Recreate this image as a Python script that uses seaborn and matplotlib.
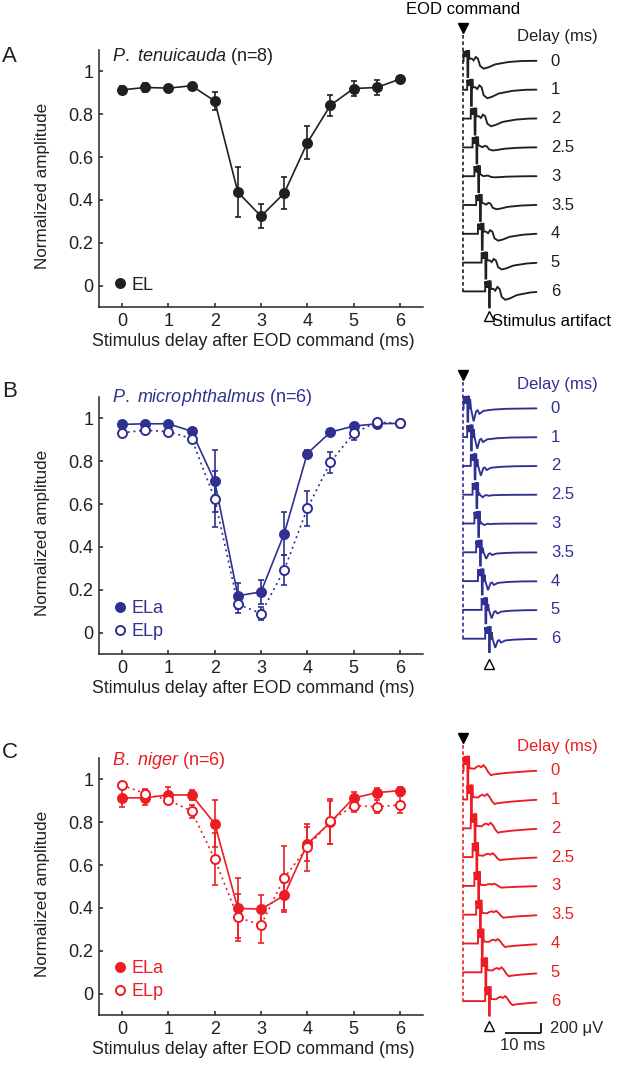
import numpy as np
import pandas as pd
import matplotlib
matplotlib.use("Agg")
import matplotlib.pyplot as plt
import seaborn as sns
from matplotlib.lines import Line2D

# ---------------- data ----------------
DELAYS = [0, 0.5, 1, 1.5, 2, 2.5, 3, 3.5, 4, 4.5, 5, 5.5, 6]

A_EL = [0.914, 0.925, 0.922, 0.933, 0.862, 0.436, 0.324, 0.431, 0.666, 0.842, 0.920, 0.925, 0.964]
A_EL_ERR = [0.020, 0.020, 0.010, 0.010, 0.040, 0.118, 0.057, 0.075, 0.077, 0.050, 0.033, 0.037, 0.015]

B_ELA = [0.972, 0.975, 0.975, 0.940, 0.706, 0.172, 0.190, 0.461, 0.836, 0.936, 0.964, 0.975, 0.977]
B_ELA_ERR = [0.010, 0.010, 0.010, 0.015, 0.145, 0.060, 0.055, 0.100, 0.015, 0.010, 0.010, 0.010, 0.008]
B_ELP = [0.933, 0.945, 0.938, 0.906, 0.625, 0.133, 0.089, 0.292, 0.580, 0.795, 0.930, 0.983, 0.977]
B_ELP_ERR = [0.010, 0.020, 0.010, 0.015, 0.130, 0.040, 0.030, 0.070, 0.080, 0.050, 0.030, 0.008, 0.008]

C_ELA = [0.914, 0.914, 0.928, 0.927, 0.794, 0.398, 0.394, 0.458, 0.698, 0.800, 0.913, 0.938, 0.948]
C_ELA_ERR = [0.045, 0.035, 0.035, 0.025, 0.110, 0.140, 0.065, 0.075, 0.080, 0.100, 0.030, 0.020, 0.015]
C_ELP = [0.973, 0.934, 0.903, 0.852, 0.628, 0.356, 0.320, 0.539, 0.683, 0.805, 0.878, 0.872, 0.881]
C_ELP_ERR = [0.010, 0.020, 0.020, 0.030, 0.120, 0.110, 0.085, 0.150, 0.110, 0.105, 0.030, 0.030, 0.040]

Y_TICKS = [0, 0.2, 0.4, 0.6, 0.8, 1]
Y_TICK_LABELS = ["0", "0.2", "0.4", "0.6", "0.8", "1"]
X_TICKS = [0, 1, 2, 3, 4, 5, 6]

# example traces (time in ms relative to stimulus onset, voltage in µV)
TRACE_DELAYS = [0, 1, 2, 2.5, 3, 3.5, 4, 5, 6]
TRACE_LABELS = ["0", "1", "2", "2.5", "3", "3.5", "4", "5", "6"]
ART_T = [0.0, 0.03, 0.35, 0.4, 0.75, 0.8, 1.05, 1.1, 1.3, 1.35, 1.55, 1.6]
A_ART_V = [0, 200, 80, 200, 80, 200, 200, -320, -320, 200, 200, 47]
B_ART_V = [0, 233, 100, 233, 100, 233, 233, -267, -267, 233, 233, 0]
C_ART_V = [0, 280, 120, 280, 120, 280, 280, -290, -290, 280, 280, 47]

A_RESP_T = [2.3, 2.8, 3.4, 4.0, 4.6, 5.6, 6.9, 8.8, 12.5, 16.2, 22.0]
A_RESP_V = [47, 13, 80, 47, -100, -153, -127, -67, -20, 0, 5]
A_GAIN = [1.0, 1.1, 1.0, 0.4, 0.15, 0.55, 0.9, 0.9, 1.1]

B_RESP_T = [1.65, 1.85, 2.05, 2.8, 3.5, 3.9, 4.4, 5.6, 8.3, 12.0, 22.0]
B_RESP_V = [0, 180, 0, -260, -60, -40, -110, -50, -25, -10, 0]
B_GAIN = [1.0, 0.9, 0.75, 0.2, 0.12, 0.5, 0.7, 0.65, 0.7]

C_RESP_T = [1.85, 3.05, 3.7, 4.35, 4.9, 5.55, 6.2, 6.9, 7.6, 8.3, 11.6, 16.2, 22.0]
C_RESP_V = [47, 40, 80, 95, 70, 110, 55, -33, -90, -75, -47, -20, 5]
C_GAIN = [1.0, 1.0, 1.0, 0.7, 0.4, 0.7, 0.8, 0.9, 0.9]

# ---------------- style ----------------
BLACK = "#231F20"
BLUE = "#2E3192"
RED = "#ED1C24"

sns.set_style("ticks")
plt.rcParams["font.family"] = ["Liberation Sans", "DejaVu Sans"]
plt.rcParams["mathtext.fontset"] = "custom"
plt.rcParams["mathtext.rm"] = "Liberation Sans"
plt.rcParams["mathtext.it"] = "Liberation Sans:italic"
plt.rcParams["axes.linewidth"] = 1.1

W, H = 617, 1066
fig = plt.figure(figsize=(W / 100, H / 100), dpi=100)

# trace geometry
CMD_PX = 463.0
PX_PER_MS = 3.6
UV_PER_PX = 20.0
ROW_UV = 576.0
ART_OFFSET = 0.15
T_END = 20.4


def main_axes(top_px, bottom_px):
    ax = fig.add_axes([99 / W, 1 - bottom_px / H, 324 / W, (bottom_px - top_px) / H])
    ax.set_xlim(-0.5, 6.5)
    ax.set_ylim(-0.1, 1.1)
    sns.despine(ax=ax)
    ax.set_xticks(X_TICKS)
    ax.set_yticks(Y_TICKS)
    ax.set_yticklabels(Y_TICK_LABELS)
    ax.tick_params(direction="in", length=3, width=1.1, labelsize=13, pad=4, colors=BLACK)
    ax.set_xlabel("Stimulus delay after EOD command (ms)", fontsize=12.8, color=BLACK)
    ax.set_ylabel("Normalized amplitude", fontsize=12.3, color=BLACK)
    ax.xaxis.label.set_verticalalignment("center")
    ax.yaxis.label.set_verticalalignment("center")
    ax.xaxis.set_label_coords(0.475, -0.136)
    ax.yaxis.set_label_coords(-0.174, 0.47)
    return ax


def draw_series(ax, y, err, color, filled, label, z):
    df = pd.DataFrame({"delay": DELAYS, "amp": y})
    ax.errorbar(DELAYS, y, yerr=err, fmt="none", ecolor=color, elinewidth=1.2,
                capsize=2.4, capthick=1.2, zorder=z - 0.5)
    sns.lineplot(data=df, x="delay", y="amp", ax=ax, color=color, linewidth=1.2,
                 marker="o", markersize=6.5,
                 markerfacecolor=color if filled else "white",
                 markeredgecolor=color, markeredgewidth=1.4, zorder=z, label=label,
                 legend=False)
    line = ax.lines[-1]
    if not filled:
        line.set_linestyle((0, (1.2, 2.2)))
    return Line2D([], [], color=color, marker="o", linestyle="none", markersize=6.5,
                  markerfacecolor=color if filled else "white", markeredgecolor=color,
                  markeredgewidth=1.4)


def add_legend(ax, handles, labels, color, y_center):
    leg = ax.legend(handles, labels, loc="center left", bbox_to_anchor=(0.037, y_center),
                    frameon=False, fontsize=13, handlelength=0.95, handletextpad=0.2,
                    borderpad=0, borderaxespad=0, labelspacing=0.35)
    for t in leg.get_texts():
        t.set_color(color)


def trace_axes(top_px, bottom_px, row0_px):
    left_px, right_px = 440.0, 617.0
    ax = fig.add_axes([left_px / W, 1 - bottom_px / H, (right_px - left_px) / W,
                       (bottom_px - top_px) / H])
    ax.set_xlim(-(CMD_PX - left_px) / PX_PER_MS, (right_px - CMD_PX) / PX_PER_MS)
    ax.set_ylim(-(bottom_px - row0_px) * UV_PER_PX, (row0_px - top_px) * UV_PER_PX)
    ax.axis("off")
    return ax


def trace(delay, art_v, resp_t, resp_v, gain):
    t0 = ART_OFFSET + delay
    t = np.array([0.0] + [t0 + x for x in ART_T] + [t0 + x for x in resp_t])
    v = np.array([0.0] + list(art_v) + [gain * x for x in resp_v])
    keep = t <= T_END
    end_v = np.interp(T_END, t, v)
    return np.append(t[keep], T_END), np.append(v[keep], end_v)


def draw_traces(ax, color, art_v, resp_t, resp_v, gains):
    n = len(TRACE_DELAYS)
    for i, (d, lab, g) in enumerate(zip(TRACE_DELAYS, TRACE_LABELS, gains)):
        t, v = trace(d, art_v, resp_t, resp_v, g)
        ax.plot(t, v - i * ROW_UV, color=color, lw=1.35, solid_joinstyle="miter")
        ax.text(24.4, -i * ROW_UV, lab, color=color, fontsize=12, ha="left", va="center")
    ax.plot([0, 0], [520, -(n - 1) * ROW_UV], color=color, lw=1.2, ls=(0, (2.2, 1.6)))
    ax.plot([0], [660], marker="v", color="black", markersize=7.5, clip_on=False)
    ax.text(15.0, 480, "Delay (ms)", color=color, fontsize=12, ha="left", va="center")
    art_x = ART_OFFSET + TRACE_DELAYS[-1] + 1.2
    ax.plot([art_x], [-(n - 1) * ROW_UV - 500], marker="^", markerfacecolor="white",
            markeredgecolor="black", markeredgewidth=1.0, markersize=7, linestyle="none")
    return art_x


# ---------------- panel A ----------------
axA = main_axes(50, 307)
hA = draw_series(axA, A_EL, A_EL_ERR, BLACK, True, "EL", 3)
add_legend(axA, [hA], ["EL"], BLACK, (307 - 285) / 257)
axA.text(0.04, 0.974, r"$\it{P.\ tenuicauda}$ (n=8)", transform=axA.transAxes,
         fontsize=13, color=BLACK, ha="left", va="center")

# ---------------- panel B ----------------
axB = main_axes(397, 654)
hB1 = draw_series(axB, B_ELA, B_ELA_ERR, BLUE, True, "ELa", 3)
hB2 = draw_series(axB, B_ELP, B_ELP_ERR, BLUE, False, "ELp", 4)
add_legend(axB, [hB1, hB2], ["ELa", "ELp"], BLUE, (654 - 620) / 257)
axB.text(0.04, 1.0, r"$\it{P.\ microphthalmus}$ (n=6)", transform=axB.transAxes,
         fontsize=13, color=BLUE, ha="left", va="center")

# ---------------- panel C ----------------
axC = main_axes(758, 1015)
hC1 = draw_series(axC, C_ELA, C_ELA_ERR, RED, True, "ELa", 3)
hC2 = draw_series(axC, C_ELP, C_ELP_ERR, RED, False, "ELp", 4)
add_legend(axC, [hC1, hC2], ["ELa", "ELp"], RED, (1015 - 980) / 257)
axC.text(0.04, 0.992, r"$\it{B.\ niger}$ (n=6)", transform=axC.transAxes,
         fontsize=13, color=RED, ha="left", va="center")

# ---------------- traces ----------------
tA = trace_axes(0, 340, 61)
xa = draw_traces(tA, BLACK, A_ART_V, A_RESP_T, A_RESP_V, A_GAIN)
tA.text(0, (61 - 9) * UV_PER_PX, "EOD command", fontsize=12, color="black",
        ha="center", va="center")
tA.text(xa + 0.8, -(len(TRACE_DELAYS) - 1) * ROW_UV - 600, "Stimulus artifact",
        fontsize=12, color="black", ha="left", va="center")

tB = trace_axes(360, 700, 408.3)
draw_traces(tB, BLUE, B_ART_V, B_RESP_T, B_RESP_V, B_GAIN)

tC = trace_axes(720, 1066, 770.7)
draw_traces(tC, RED, C_ART_V, C_RESP_T, C_RESP_V, C_GAIN)
# scale bars: 10 ms, 200 µV
sb_y = -(1033 - 770.7) * UV_PER_PX
sb_x1 = 21.7
tC.plot([sb_x1 - 10, sb_x1], [sb_y, sb_y], color="black", lw=1.2, solid_capstyle="butt")
tC.plot([sb_x1, sb_x1], [sb_y, sb_y + 200], color="black", lw=1.2, solid_capstyle="butt")
tC.text(sb_x1 + 2.4, sb_y + 100, "200 μV", fontsize=12, ha="left", va="center")
tC.text(sb_x1 - 5, sb_y - 250, "10 ms", fontsize=12, ha="center", va="center")

# ---------------- panel letters ----------------
for letter, ypx in [("A", 57), ("B", 392), ("C", 753)]:
    fig.text(2 / W, 1 - ypx / H, letter, fontsize=16, ha="left", va="center", color=BLACK)

fig.savefig("out.png", dpi=100)
